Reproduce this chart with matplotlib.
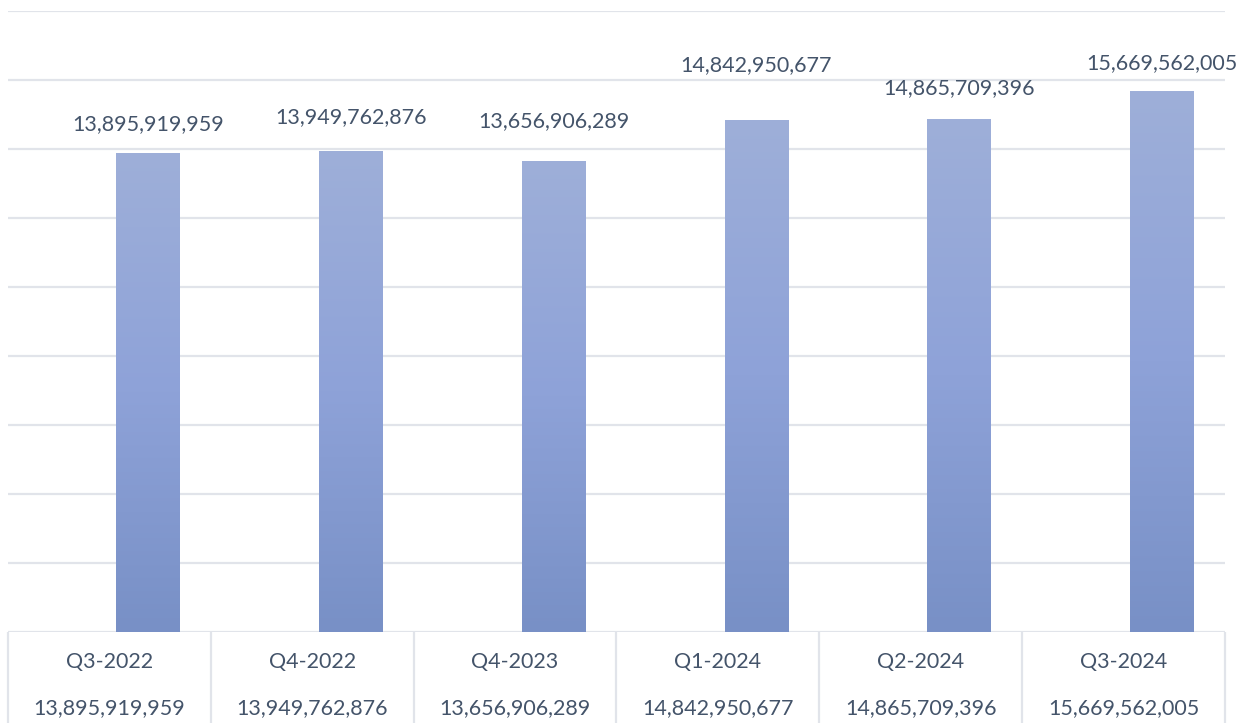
import numpy as np
import matplotlib.pyplot as plt
import matplotlib.transforms as mtransforms
from matplotlib.colors import LinearSegmentedColormap

# quarterly totals
quarters = ["Q3-2022", "Q4-2022", "Q4-2023", "Q1-2024", "Q2-2024", "Q3-2024"]
totals = [13895919959, 13949762876, 13656906289, 14842950677, 14865709396, 15669562005]

# how far each label sits above its bar (pixels), to dodge the gridlines
label_lift = [28, 34, 40, 55, 31, 28]

text_color = "#44546a"
grid_color = "#e1e4ea"
plt.rcParams['font.family'] = ['Lato', 'DejaVu Sans']

fig = plt.figure(figsize=(12.47, 7.23), dpi=100)
ax = fig.add_axes([8 / 1247, 91 / 723, 1217 / 1247, 621 / 723])

x = np.arange(len(quarters))
bar_shift = 0.19  # bars sit right of the category centre (empty second series slot)
bars = ax.bar(x + bar_shift, totals, width=0.315, color="none", zorder=3)

# vertical gradient inside each bar
cmap = LinearSegmentedColormap.from_list("bar", ["#7890c6", "#8ea2d8", "#9eafd9"])
grad = np.linspace(0, 1, 256).reshape(-1, 1)
for b in bars:
    x0, y0 = b.get_x(), b.get_y()
    im = ax.imshow(grad, cmap=cmap, origin="lower", aspect="auto",
                   extent=[x0, x0 + b.get_width(), y0, y0 + b.get_height()], zorder=3)
    im.set_clip_path(b)

for i, b in enumerate(bars):
    ax.annotate(f"{totals[i]:,}", (b.get_x() + b.get_width() / 2, b.get_height()),
                xytext=(0, label_lift[i]), textcoords="offset pixels",
                ha="center", va="center", fontsize=15.5, color=text_color)

ax.set_xlim(-0.5, len(quarters) - 0.5)
ax.set_ylim(0, 18e9)
ax.set_yticks(np.arange(0, 18e9 + 1, 2e9))
ax.yaxis.grid(True, color=grid_color, linewidth=1.6, zorder=0)
ax.tick_params(left=False, bottom=False, labelleft=False, labelbottom=False)
for s in ax.spines.values():
    s.set_visible(False)

# data table under the plot
trans = mtransforms.blended_transform_factory(ax.transData, ax.transAxes)
edges = np.arange(len(quarters) + 1) - 0.5
ax.vlines(edges, -0.2, 0, transform=trans, color=grid_color, linewidth=1.6, clip_on=False)
for i, q in enumerate(quarters):
    ax.text(i, -0.0483, q, transform=trans, ha="center", va="center",
            fontsize=15.5, color=text_color, clip_on=False)
    ax.text(i, -0.1224, f"{totals[i]:,}", transform=trans, ha="center", va="center",
            fontsize=15.5, color=text_color, clip_on=False)

fig.savefig("out.png", dpi=100)
